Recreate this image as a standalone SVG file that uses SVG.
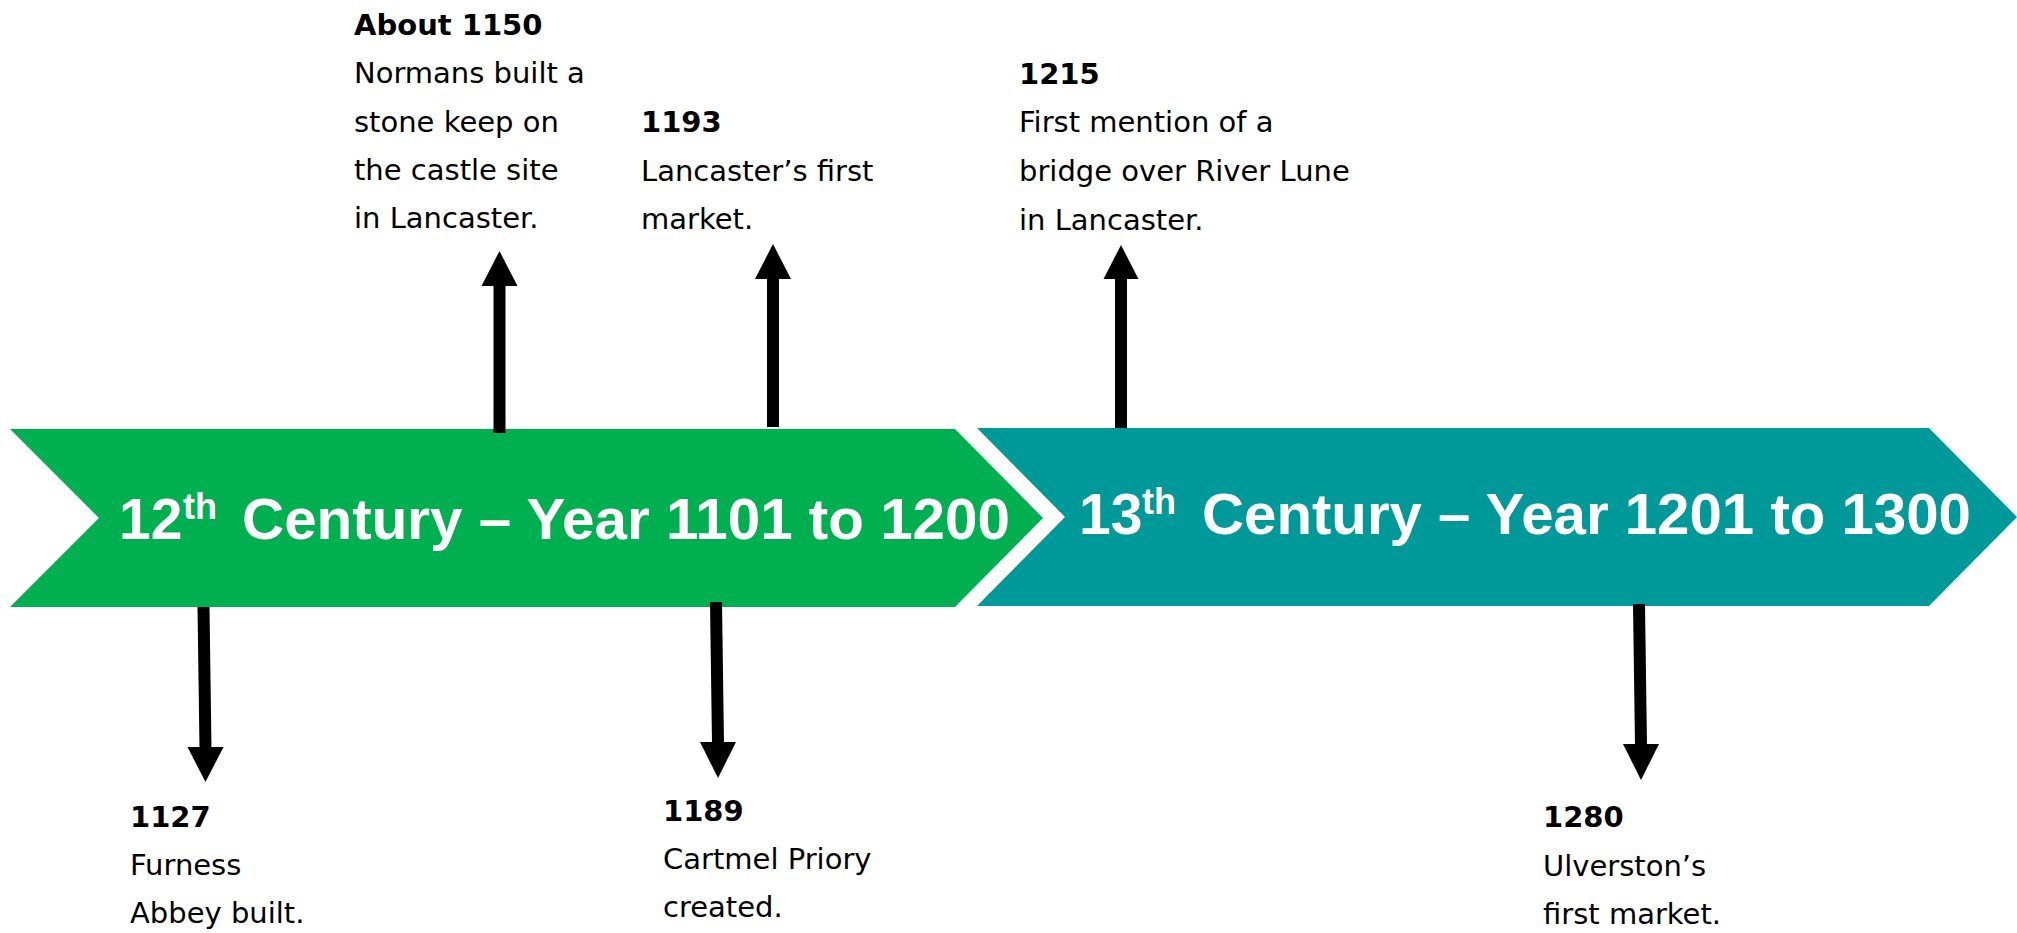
<svg xmlns="http://www.w3.org/2000/svg" width="2017" height="933" viewBox="0 0 2017 933">
<style>
.bg{fill:#ffffff}
.band12{fill:#00B050}
.band13{fill:#009999}
.head{font-family:"Comic Sans MS","Liberation Sans",sans-serif;font-weight:bold;font-size:57px;fill:#ffffff}
.sup{font-family:"Comic Sans MS","Liberation Sans",sans-serif;font-weight:bold;font-size:36px;fill:#ffffff}
.lbl{font-family:"Comic Sans MS","DejaVu Sans",sans-serif;font-size:29px;fill:#000000}
.yr{font-weight:bold}
.shaft{stroke:#000000;stroke-width:12;fill:none}
.tip{fill:#000000}
</style>
<rect class="bg" x="0" y="0" width="2017" height="933"/>
<g id="century12">
<polygon class="band12" points="10,429 955,429 1043,518 955,607 10,607 99,518"/>
<text class="head" x="119" y="539">12</text>
<text class="sup" x="183" y="519">th</text>
<text class="head" x="242" y="539" textLength="768" lengthAdjust="spacingAndGlyphs">Century – Year 1101 to 1200</text>
</g>
<g id="century13">
<polygon class="band13" points="977,428 1929,428 2017,517 1929,606 977,606 1065,517"/>
<text class="head" x="1079" y="534">13</text>
<text class="sup" x="1142" y="514">th</text>
<text class="head" x="1202" y="534" textLength="769" lengthAdjust="spacingAndGlyphs">Century – Year 1201 to 1300</text>
</g>
<g id="connectors">
<line class="shaft" x1="499.5" y1="433" x2="499.5" y2="284"/>
<polygon class="tip" points="499.5,251 517.5,286 481.5,286"/>
<line class="shaft" x1="773" y1="427" x2="773" y2="277"/>
<polygon class="tip" points="773,244 791,279 755,279"/>
<line class="shaft" x1="1121" y1="428" x2="1121" y2="277"/>
<polygon class="tip" points="1121,245 1138.5,279 1103.5,279"/>
<line class="shaft" x1="203.5" y1="607" x2="205.5" y2="749"/>
<polygon class="tip" points="205.5,782 187.5,747 223.5,747"/>
<line class="shaft" x1="716" y1="602" x2="718" y2="744"/>
<polygon class="tip" points="718,778 700,742 736,742"/>
<line class="shaft" x1="1639" y1="604" x2="1641" y2="746"/>
<polygon class="tip" points="1641,780 1623,744 1659,744"/>
</g>
<g id="event1150">
<text class="lbl yr" x="354" y="35">About 1150</text>
<text class="lbl" x="354" y="83">Normans built a</text>
<text class="lbl" x="354" y="132">stone keep on</text>
<text class="lbl" x="354" y="180">the castle site</text>
<text class="lbl" x="354" y="228">in Lancaster.</text>
</g>
<g id="event1193">
<text class="lbl yr" x="641" y="132">1193</text>
<text class="lbl" x="641" y="181">Lancaster’s first</text>
<text class="lbl" x="641" y="229">market.</text>
</g>
<g id="event1215">
<text class="lbl yr" x="1019" y="84">1215</text>
<text class="lbl" x="1019" y="132">First mention of a</text>
<text class="lbl" x="1019" y="181">bridge over River Lune</text>
<text class="lbl" x="1019" y="230">in Lancaster.</text>
</g>
<g id="event1127">
<text class="lbl yr" x="130" y="827">1127</text>
<text class="lbl" x="130" y="875">Furness</text>
<text class="lbl" x="130" y="923">Abbey built.</text>
</g>
<g id="event1189">
<text class="lbl yr" x="663" y="821">1189</text>
<text class="lbl" x="663" y="869">Cartmel Priory</text>
<text class="lbl" x="663" y="917">created.</text>
</g>
<g id="event1280">
<text class="lbl yr" x="1543" y="827">1280</text>
<text class="lbl" x="1543" y="876">Ulverston’s</text>
<text class="lbl" x="1543" y="924">first market.</text>
</g>
</svg>
